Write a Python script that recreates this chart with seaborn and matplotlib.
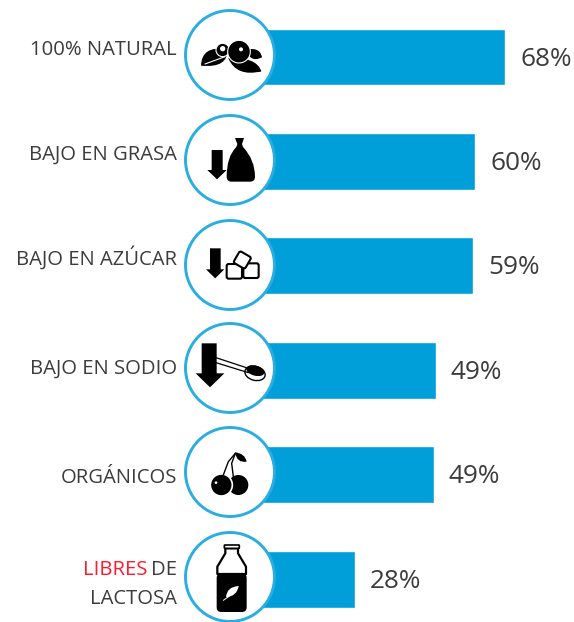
import matplotlib
matplotlib.use('Agg')
import matplotlib.pyplot as plt
from matplotlib.patches import Circle, Ellipse, FancyBboxPatch, PathPatch, Polygon
from matplotlib.path import Path
from matplotlib.transforms import Affine2D
import pandas as pd
import seaborn as sns

categories = ['100% NATURAL', 'BAJO EN GRASA', 'BAJO EN AZÚCAR', 'BAJO EN SODIO', 'ORGÁNICOS', 'LIBRES DE LACTOSA']
# bar lengths as measured, the printed labels are rounded down
bar_lengths = [68, 60, 59.5, 49.5, 49, 28]
printed = ['68%', '60%', '59%', '49%', '49%', '28%']

BLUE = '#009FDA'
RING = '#2AADE0'
GREY = '#3C3C3C'
LABEL_SIZE = 14.6

sns.set_theme(style='white')
plt.rcParams['font.family'] = ['Open Sans', 'DejaVu Sans']

fig = plt.figure(figsize=(5.74, 6.22), dpi=100)
ax = fig.add_axes([0, 0, 1, 1])
df = pd.DataFrame({'categoria': categories, 'valor': bar_lengths})
sns.barplot(data=df, x='valor', y='categoria', order=categories, color=BLUE,
            saturation=1, width=0.545, orient='h', ax=ax)
ax.set_xlim(-250 / 3.75, (574 - 250) / 3.75)
ax.set_ylim(5.41, -0.546)
values = ax.bar_label(ax.containers[0], labels=printed, padding=10.8, fontsize=18.8, color=GREY)
for txt in values:
    txt.xyann = (10.8, -1.5)
ax.axis('off')

# overlay in pixels for the labels and the pictograms
ov = fig.add_axes([0, 0, 1, 1])
ov.set_xlim(0, 574)
ov.set_ylim(622, 0)
ov.axis('off')
ov.patch.set_alpha(0)

label_y = [50, 155, 258, 369, 478]
for name, y in zip(categories[:5], label_y):
    ov.text(177, y, name, ha='right', va='center', fontsize=LABEL_SIZE, color=GREY)
ov.text(147, 570, 'LIBRES', ha='right', va='center', fontsize=LABEL_SIZE, color='#FF1A2E')
ov.text(177, 570, 'DE', ha='right', va='center', fontsize=LABEL_SIZE, color=GREY)
ov.text(177, 599, 'LACTOSA', ha='right', va='center', fontsize=LABEL_SIZE, color=GREY)

for cy in [55, 160, 265, 368, 472, 577]:
    ov.add_patch(Circle((230, cy), 44.5, fc='white', ec=RING, lw=2.1, clip_on=False))


def tr(ox, oy):
    # icon shapes are in 3x crop coordinates
    return Affine2D().scale(1 / 3).translate(ox, oy) + ov.transData


def add(p, t):
    p.set_transform(t)
    ov.add_patch(p)
    return p


def leaf(p0, p1, c0, c1, t, fc='black'):
    verts = [p0, c0, p1, c1, p0, p0]
    codes = [Path.MOVETO, Path.CURVE3, Path.CURVE3, Path.CURVE3, Path.CURVE3, Path.CLOSEPOLY]
    add(PathPatch(Path(verts, codes), fc=fc, ec='none'), t)


def arrow(x0, x1, y0, y1, hx0, hx1, tip, t):
    mid = (hx0 + hx1) / 2
    add(Polygon([(x0, y0), (x1, y0), (x1, y1), (hx1, y1), (mid, tip), (hx0, y1), (x0, y1)],
                fc='black', ec='none'), t)


# berries
t = tr(180, 0)
leaf((63, 197), (142, 148), (65, 135), (145, 205), t)
leaf((145, 175), (244, 214), (170, 170), (170, 232), t)
leaf((145, 175), (244, 214), (230, 170), (200, 220), t)
leaf((198, 148), (246, 172), (240, 140), (210, 190), t)
ov.plot([75, 135], [192, 170], color='white', lw=0.8, transform=t)
add(Circle((128, 150), 20, fc='black', ec='white', lw=0.8), t)
add(Circle((128, 146), 8, fc='white', ec='none'), t)
add(Circle((177, 155), 34, fc='black', ec='white', lw=0.8), t)
add(Circle((183, 148), 6, fc='white', ec='none'), t)

# bag
t = tr(180, 0)
arrow(95, 128, 450, 510, 82, 140, 538, t)
verts = [(168, 442), (140, 470), (140, 530), (140, 545), (155, 545), (210, 545), (225, 545),
         (225, 530), (225, 480), (190, 442), (168, 442)]
codes = [Path.MOVETO, Path.CURVE3, Path.CURVE3, Path.CURVE3, Path.CURVE3, Path.LINETO, Path.CURVE3,
         Path.CURVE3, Path.CURVE3, Path.CURVE3, Path.LINETO]
add(PathPatch(Path(verts, codes), fc='black', ec='none'), t)
add(Polygon([(165, 414), (192, 414), (186, 432), (190, 444), (168, 444), (172, 432)],
            fc='black', ec='none'), t)

# sugar cubes
t = tr(180, 210)
arrow(90, 122, 115, 178, 78, 133, 205, t)
for x, y in [(140, 162), (190, 160)]:
    add(FancyBboxPatch((x, y), 46, 44, boxstyle='round,pad=0,rounding_size=6',
                       fc='white', ec='black', lw=1.5), t)
rot = Affine2D().rotate_deg_around(187, 150, 30) + t
add(FancyBboxPatch((167, 130), 40, 40, boxstyle='round,pad=0,rounding_size=6',
                   fc='white', ec='black', lw=1.5), rot)

# spoon
t = tr(180, 210)
ov.plot([108, 205], [443, 475], color='black', lw=0.9, transform=t)
ov.plot([108, 205], [458, 488], color='black', lw=0.9, transform=t)
add(Ellipse((225, 490), 62, 42, angle=15, fc='white', ec='black', lw=1), t)
add(Ellipse((226, 482), 56, 30, angle=15, fc='black', ec='none'), t)
arrow(65, 110, 400, 490, 47, 133, 532, t)

# cherries
t = tr(180, 420)
add(Circle((175, 195), 30, fc='black', ec='none'), t)
add(Circle((124, 195), 33, fc='black', ec='white', lw=1.2), t)
add(Circle((108, 188), 4, fc='white', ec='none'), t)
ov.plot([130, 145, 166], [165, 125, 100], color='black', lw=1, transform=t)
ov.plot([160, 155, 166], [170, 130, 100], color='black', lw=1, transform=t)
leaf((165, 97), (200, 125), (195, 100), (170, 130), t)

# bottle
t = tr(180, 420)
add(Polygon([(136, 385), (136, 400), (112, 440), (112, 462), (198, 462), (198, 440), (174, 400), (174, 385)],
            fc='white', ec='black', lw=1.6, joinstyle='round'), t)
add(FancyBboxPatch((133, 375), 45, 10, boxstyle='round,pad=0,rounding_size=2',
                   fc='white', ec='black', lw=1.2), t)
add(FancyBboxPatch((110, 460), 90, 116, boxstyle='round,pad=0,rounding_size=14',
                   fc='black', ec='none'), t)
leaf((138, 532), (176, 498), (140, 500), (172, 528), t, fc='white')
ov.plot([130, 150], [541, 527], color='white', lw=0.7, transform=t)

fig.savefig('out.png', dpi=100)
